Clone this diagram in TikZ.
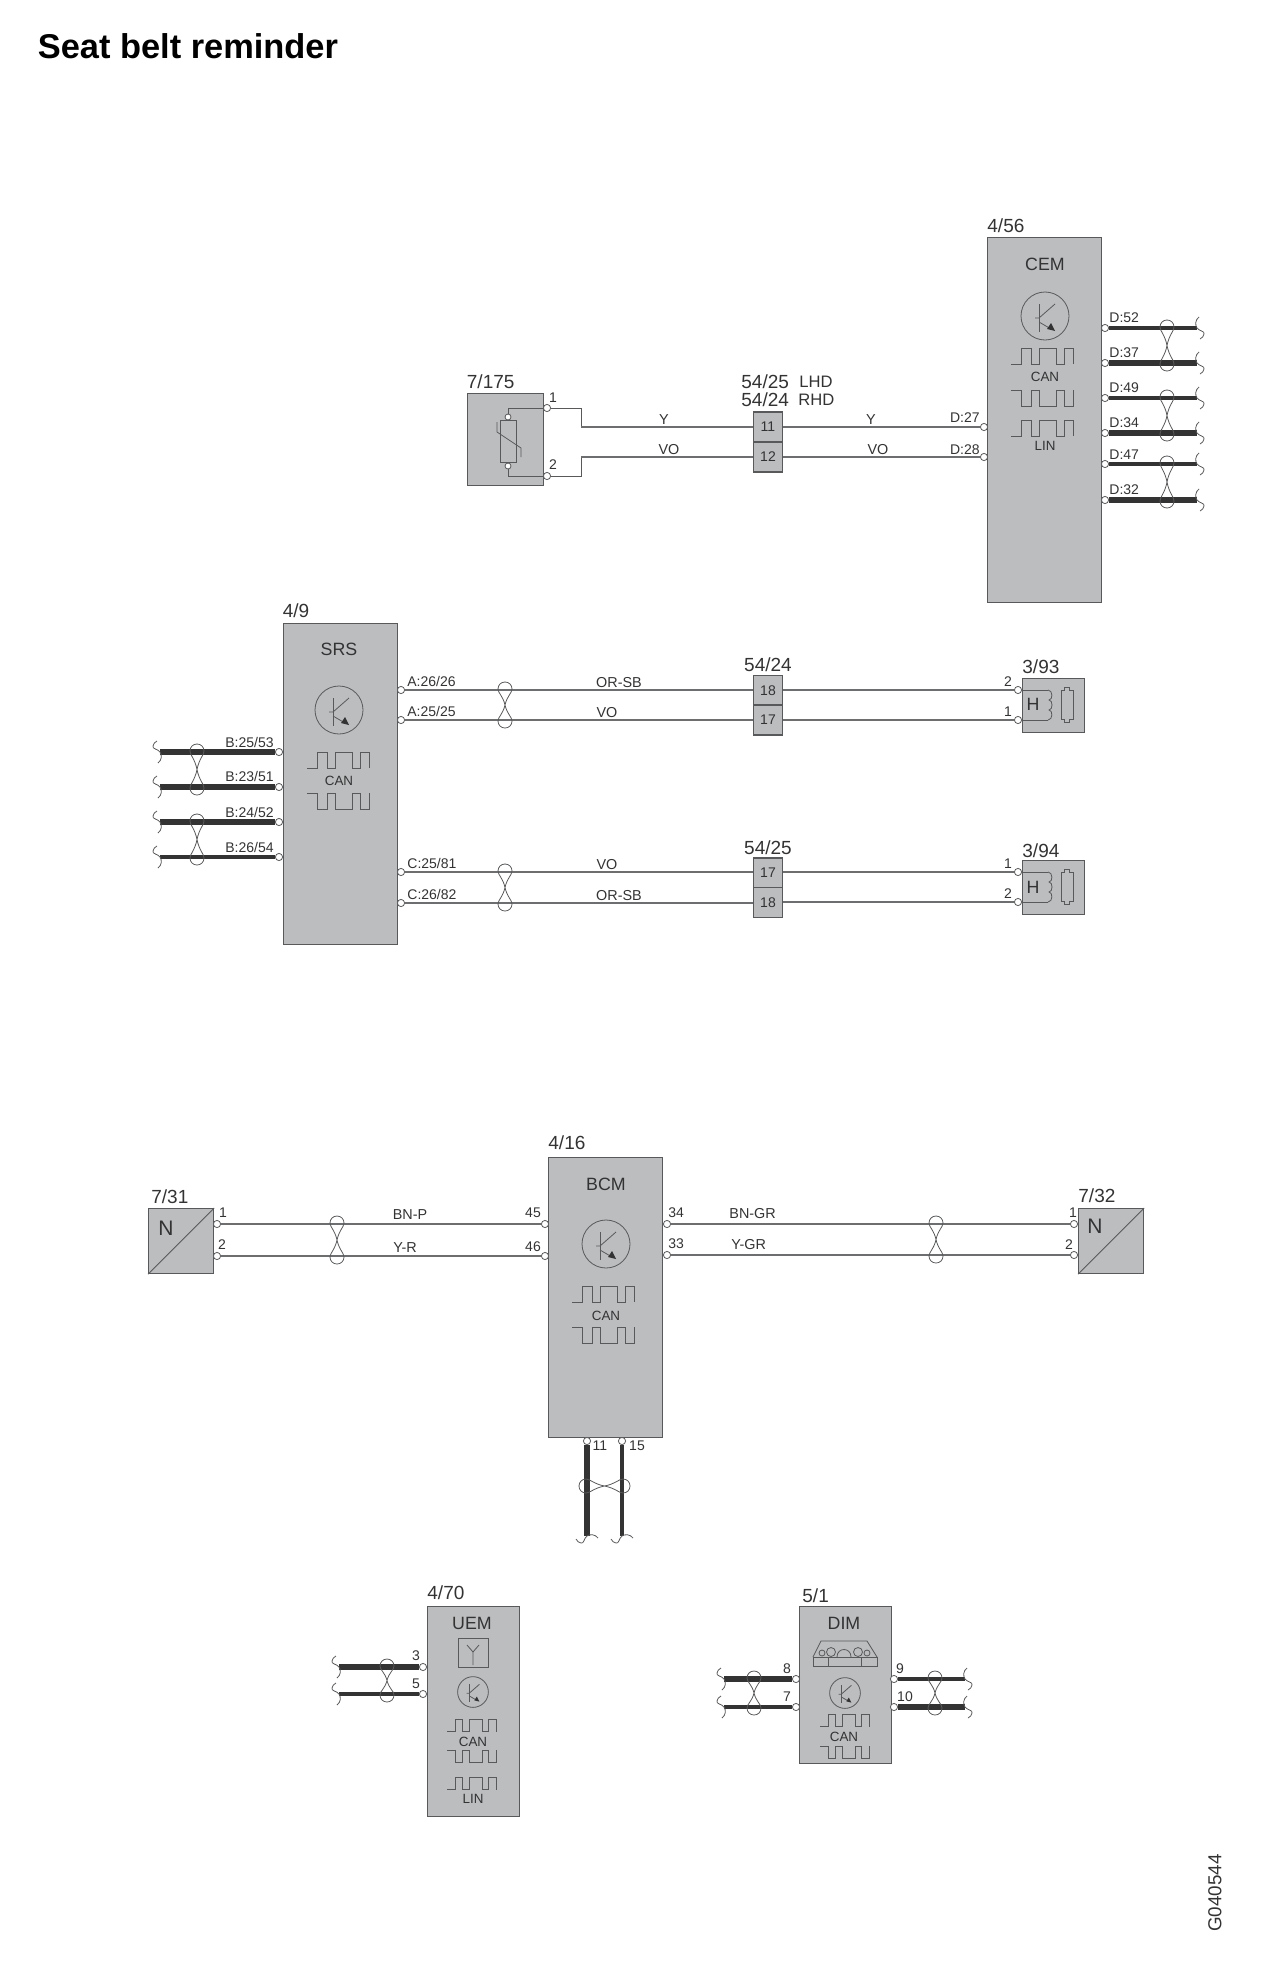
\documentclass[tikz,border=0pt]{standalone}
\usepackage{fontspec}
\setmainfont{Liberation Sans}
\definecolor{boxgray}{HTML}{BCBDBF}
\definecolor{linegray}{HTML}{58595B}
\definecolor{wiregray}{HTML}{6D6E70}
\definecolor{inkdark}{HTML}{333333}
\tikzset{
  ecu/.style={draw=linegray, fill=boxgray, line width=0.6pt, anchor=north west, inner sep=0},
  conn/.style={draw=linegray, fill=boxgray, line width=0.6pt, minimum width=14.5pt, minimum height=15pt, inner sep=0, text=inkdark, font=\fontsize{7}{8}\selectfont},
  pin/.style={circle, draw=linegray, fill=white, line width=0.4pt, minimum size=3.6pt, inner sep=0},
  tag/.style={anchor=west, inner sep=0, text=inkdark, font=\fontsize{9.5}{11}\selectfont},
  chipname/.style={inner sep=0, text=inkdark, font=\fontsize{8.9}{10}\selectfont},
  bus/.style={inner sep=0, text=inkdark, font=\fontsize{6.7}{8}\selectfont},
  pinlabel/.style={inner sep=0, text=inkdark, font=\fontsize{7}{8}\selectfont},
  wirelabel/.style={inner sep=0, text=inkdark, font=\fontsize{7.2}{8}\selectfont},
  wire/.style={draw=wiregray, line width=0.6pt},
  fine/.style={draw=linegray, line width=0.4pt},
  thinbus/.style={draw=inkdark, line width=1.7pt},
  thickbus/.style={draw=inkdark, line width=3pt},
  pics/chip/.style={code={
    \draw[fine] (0,0) circle[radius=24];
    \draw[fine] (-6,-12) -- (-6,16);
    \draw[fine] (-10,2) -- (-6,2) -- (10,-12);
    \draw[fine] (-6,6) -- (6,13);
    \fill[inkdark] (10,15) -- (2,13) -- (6,7) -- cycle;
  }},
  pics/pulseup/.style={code={
    \draw[fine] (0,16) -- (10,16) -- (10,0) -- (20,0) -- (20,16) -- (28,16) -- (28,0) -- (45,0) -- (45,16) -- (53,16) -- (53,0) -- (62,0) -- (62,16);
  }},
  pics/pulsedn/.style={code={
    \draw[fine] (0,0) -- (10,0) -- (10,16) -- (20,16) -- (20,0) -- (28,0) -- (28,16) -- (45,16) -- (45,0) -- (53,0) -- (53,16) -- (62,16) -- (62,0);
  }},
  pics/twist/.style={code={
    \draw[fine] (0,0) .. controls (2,-#1*0.6) and (7,-#1+3) .. (7,-#1-1) .. controls (7,-#1-5) and (4,-#1-8) .. (0,-#1-8) .. controls (-4,-#1-8) and (-7,-#1-5) .. (-7,-#1-1) .. controls (-7,-#1+3) and (-2,-#1*0.6) .. (0,0);
    \draw[fine] (0,0) .. controls (2,#1*0.6) and (7,#1-3) .. (7,#1+1) .. controls (7,#1+5) and (4,#1+8) .. (0,#1+8) .. controls (-4,#1+8) and (-7,#1+5) .. (-7,#1+1) .. controls (-7,#1-3) and (-2,#1*0.6) .. (0,0);
  }},
  pics/brk/.style={code={
    \draw[fine] (2,-11) .. controls (-2,-8) and (-2,-3) .. (0,0) .. controls (2,3) and (8,3) .. (7,6) .. controls (7,8) and (5,10) .. (3,11);
  }},
  pics/coil/.style={code={
    \draw[fine] (0,0) .. controls (5,0) and (5,10) .. (1,10) .. controls (5,10) and (5,20) .. (1,20) .. controls (5,20) and (5,30) .. (0,30);
  }},
  pics/fuse/.style={code={
    \draw[fine] (0,0) -- (3.5,0) -- (3.5,-3) -- (8.5,-3) -- (8.5,0) -- (12,0) -- (12,29) -- (8.5,29) -- (8.5,32) -- (3.5,32) -- (3.5,29) -- (0,29) -- cycle;
  }}
}
\begin{document}
\begin{tikzpicture}[x=0.5pt, y=-0.5pt]
    \useasboundingbox (0,0) rectangle (1265,1980);

    \node[anchor=west, inner sep=0, font=\fontsize{17.2}{20}\bfseries\selectfont] (title) at (37.5,46) {Seat belt reminder};
    \node[rotate=90, inner sep=0, text=inkdark, font=\fontsize{9.4}{11}\selectfont] (drawno) at (1215,1893) {G040544};

    % Sensor 7/175
    \node[ecu, minimum width=38pt, minimum height=46pt] (sens) at (467,393) {};
    \node[tag] (sensTag) at (466.5,382) {7/175};
    \draw[fine] (500,420) rectangle (516,462);
    \node[pin, minimum size=3pt] (sensTop) at (508,417) {};
    \node[pin, minimum size=3pt] (sensBot) at (508,466) {};
    \draw[fine] (497,422) -- (497,432) -- (521,448) -- (521,457);
    \node[pin] (sensA) at (547,408) {};
    \node[pin] (sensB) at (547,476) {};
    \draw[fine] (sensA) -| (sensTop);
    \draw[fine] (sensB) -| (sensBot);
    \node[pinlabel] (sensAtxt) at (553,398) {1};
    \node[pinlabel] (sensBtxt) at (553,465) {2};

    % Connector 54/25 54/24, top
    \node[conn] (cEleven) at (768,427) {11};
    \node[conn] (cTwelve) at (768,457) {12};
    \node[tag] (cLhd) at (741,382) {54/25};
    \node[tag] (cRhd) at (741,400) {54/24};
    \node[tag, font=\fontsize{8.3}{10}\selectfont] (cLhdTxt) at (799,382) {LHD};
    \node[tag, font=\fontsize{8.3}{10}\selectfont] (cRhdTxt) at (798,400) {RHD};
    \coordinate (kinkA) at (581,427);
    \coordinate (kinkB) at (581,457);
    \draw[fine] (sensA) -| (kinkA);
    \draw[fine] (sensB) -| (kinkB);
    \draw[wire] (kinkA) -- (cEleven);
    \draw[wire] (kinkB) -- (cTwelve);
    \node[wirelabel] (wY) at (664,420) {Y};
    \node[wirelabel] (wVO) at (669,450) {VO};

    % CEM
    \node[ecu, minimum width=57pt, minimum height=182.5pt] (cem) at (987,237) {};
    \node[tag] (cemTag) at (987,226) {4/56};
    \node[chipname] (cemName) at (1045,264) {CEM};
    \pic at (1045,316) {chip};
    \pic at (1011,348) {pulseup};
    \node[bus] (cemCan) at (1045,377) {CAN};
    \pic at (1011,390) {pulsedn};
    \pic at (1011,420) {pulseup};
    \node[bus] (cemLin) at (1045,446) {LIN};
    \node[pin] (cemL) at (984,427) {};
    \node[pin] (cemM) at (984,457) {};
    \draw[wire] (cEleven) -- (cemL);
    \draw[wire] (cTwelve) -- (cemM);
    \node[pinlabel, anchor=east] (cemLtxt) at (980,418) {D:27};
    \node[pinlabel, anchor=east] (cemMtxt) at (980,450) {D:28};
    \node[wirelabel] (wYb) at (871,420) {Y};
    \node[wirelabel] (wVOb) at (878,450) {VO};

    \node[pin] (dA) at (1105,328) {};
    \node[pin] (dB) at (1105,363) {};
    \node[pin] (dC) at (1105,398) {};
    \node[pin] (dD) at (1105,433) {};
    \node[pin] (dE) at (1105,464) {};
    \node[pin] (dF) at (1105,500) {};
    \coordinate (dAend) at (1197,328);
    \coordinate (dBend) at (1197,363);
    \coordinate (dCend) at (1197,398);
    \coordinate (dDend) at (1197,433);
    \coordinate (dEend) at (1197,464);
    \coordinate (dFend) at (1197,500);
    \draw[thinbus] (dA) -- (dAend);
    \draw[thickbus] (dB) -- (dBend);
    \draw[thinbus] (dC) -- (dCend);
    \draw[thickbus] (dD) -- (dDend);
    \draw[thinbus] (dE) -- (dEend);
    \draw[thickbus] (dF) -- (dFend);
    \pic at (dAend) {brk};
    \pic at (dBend) {brk};
    \pic at (dCend) {brk};
    \pic at (dDend) {brk};
    \pic at (dEend) {brk};
    \pic at (dFend) {brk};
    \pic at (1167,345.5) {twist=17.5};
    \pic at (1167,415.5) {twist=17.5};
    \pic at (1167,482) {twist=18};
    \node[pinlabel, anchor=west] (dAtxt) at (1109,318) {D:52};
    \node[pinlabel, anchor=west] (dBtxt) at (1109,353) {D:37};
    \node[pinlabel, anchor=west] (dCtxt) at (1109,388) {D:49};
    \node[pinlabel, anchor=west] (dDtxt) at (1109,423) {D:34};
    \node[pinlabel, anchor=west] (dEtxt) at (1109,455) {D:47};
    \node[pinlabel, anchor=west] (dFtxt) at (1109,490) {D:32};

    % SRS
    \node[ecu, minimum width=57pt, minimum height=160.5pt] (srs) at (282.5,623) {};
    \node[tag] (srsTag) at (282.5,610.5) {4/9};
    \node[chipname] (srsName) at (339,649.5) {SRS};
    \pic at (339,710) {chip};
    \pic at (307,752) {pulseup};
    \node[bus] (srsCan) at (339,781) {CAN};
    \pic at (307,793) {pulsedn};

    \node[pin] (bA) at (279,752) {};
    \node[pin] (bB) at (279,787) {};
    \node[pin] (bC) at (279,822) {};
    \node[pin] (bD) at (279,857) {};
    \coordinate (bAend) at (160,752);
    \coordinate (bBend) at (160,787);
    \coordinate (bCend) at (160,822);
    \coordinate (bDend) at (160,857);
    \draw[thickbus, line width=2.6pt] (bA) -- (bAend);
    \draw[thickbus] (bB) -- (bBend);
    \draw[thickbus] (bC) -- (bCend);
    \draw[thinbus] (bD) -- (bDend);
    \pic[rotate=180] at (bAend) {brk};
    \pic[rotate=180] at (bBend) {brk};
    \pic[rotate=180] at (bCend) {brk};
    \pic[rotate=180] at (bDend) {brk};
    \pic at (197,769.5) {twist=17.5};
    \pic at (197,839.5) {twist=17.5};
    \node[pinlabel, anchor=east] (bAtxt) at (274,742) {B:25/53};
    \node[pinlabel, anchor=east] (bBtxt) at (274,776) {B:23/51};
    \node[pinlabel, anchor=east] (bCtxt) at (274,812) {B:24/52};
    \node[pinlabel, anchor=east] (bDtxt) at (274,847) {B:26/54};

    % SRS to 3/93
    \node[pin] (aA) at (401,690) {};
    \node[pin] (aB) at (401,720) {};
    \node[pinlabel, anchor=west] (aAtxt) at (407,681) {A:26/26};
    \node[pinlabel, anchor=west] (aBtxt) at (407,711) {A:25/25};
    \node[conn] (cUpA) at (768,690.5) {18};
    \node[conn] (cUpB) at (768,720) {17};
    \node[tag, anchor=center] (cUpTag) at (768,665) {54/24};
    \node[ecu, minimum width=31pt, minimum height=27pt] (hornA) at (1022,678) {};
    \node[tag] (hornAtag) at (1022,667) {3/93};
    \node[pin] (hornAa) at (1018,690) {};
    \node[pin] (hornAb) at (1018,720) {};
    \draw[wire] (aA) -- (cUpA.west |- aA);
    \draw[wire] (aB) -- (cUpB);
    \draw[wire] (cUpA.east |- hornAa) -- (hornAa);
    \draw[wire] (cUpB) -- (hornAb);
    \pic at (505,705) {twist=15};
    \node[wirelabel] (wOrA) at (619,683) {OR-SB};
    \node[wirelabel] (wVoA) at (607,713) {VO};
    \node[pinlabel] (hornAatxt) at (1008,682) {2};
    \node[pinlabel] (hornAbtxt) at (1008,712) {1};
    \coordinate (coilAa) at (1048,690);
    \coordinate (coilAb) at (1048,720);
    \draw[fine] (hornAa) -- (coilAa);
    \draw[fine] (hornAb) -- (coilAb);
    \pic at (coilAa) {coil};
    \pic at (1061,690) {fuse};
    \node[chipname] (hornAh) at (1033,704) {H};

    % SRS to 3/94
    \node[pin] (cA) at (401,872) {};
    \node[pin] (cB) at (401,903) {};
    \node[pinlabel, anchor=west] (cAtxt) at (407,863) {C:25/81};
    \node[pinlabel, anchor=west] (cBtxt) at (407,894) {C:26/82};
    \node[conn] (cDnA) at (768,873) {17};
    \node[conn] (cDnB) at (768,902.5) {18};
    \node[tag, anchor=center] (cDnTag) at (768,848) {54/25};
    \node[ecu, minimum width=31pt, minimum height=27pt] (hornB) at (1022,860) {};
    \node[tag] (hornBtag) at (1022,851) {3/94};
    \node[pin] (hornBa) at (1018,872) {};
    \node[pin] (hornBb) at (1018,902) {};
    \draw[wire] (cA) -- (cDnA.west |- cA);
    \draw[wire] (cB) -- (cDnB.west |- cB);
    \draw[wire] (cDnA.east |- hornBa) -- (hornBa);
    \draw[wire] (cDnB.east |- hornBb) -- (hornBb);
    \pic at (505,887.5) {twist=15.5};
    \node[wirelabel] (wVoB) at (607,865) {VO};
    \node[wirelabel] (wOrB) at (619,896) {OR-SB};
    \node[pinlabel] (hornBatxt) at (1008,864) {1};
    \node[pinlabel] (hornBbtxt) at (1008,894) {2};
    \coordinate (coilBa) at (1048,872);
    \coordinate (coilBb) at (1048,902);
    \draw[fine] (hornBa) -- (coilBa);
    \draw[fine] (hornBb) -- (coilBb);
    \pic at (coilBa) {coil};
    \pic at (1061,872) {fuse};
    \node[chipname] (hornBh) at (1033,887) {H};

    % BCM
    \node[ecu, minimum width=57pt, minimum height=140pt] (bcm) at (548,1157) {};
    \node[tag] (bcmTag) at (548,1143) {4/16};
    \node[chipname] (bcmName) at (606,1184) {BCM};
    \pic at (606,1244) {chip};
    \pic at (572,1286) {pulseup};
    \node[bus] (bcmCan) at (606,1316) {CAN};
    \pic at (572,1327) {pulsedn};
    \node[pin] (bcmA) at (545,1224) {};
    \node[pin] (bcmB) at (545,1256) {};
    \node[pin] (bcmC) at (667,1224) {};
    \node[pin] (bcmD) at (667,1255) {};
    \node[pinlabel] (bcmAtxt) at (533,1213) {45};
    \node[pinlabel] (bcmBtxt) at (533,1247) {46};
    \node[pinlabel, anchor=west] (bcmCtxt) at (668,1213) {34};
    \node[pinlabel, anchor=west] (bcmDtxt) at (668,1244) {33};

    \node[pin] (bcmE) at (587,1441) {};
    \node[pin] (bcmF) at (622,1441) {};
    \coordinate (bcmEend) at (587,1536);
    \coordinate (bcmFend) at (622,1536);
    \draw[thickbus, line width=3.4pt] (bcmE) -- (bcmEend);
    \draw[thinbus] (bcmF) -- (bcmFend);
    \pic[rotate=-90] at (bcmEend) {brk};
    \pic[rotate=-90] at (bcmFend) {brk};
    \pic[rotate=90] at (604.5,1486) {twist=17.5};
    \node[pinlabel] (bcmEtxt) at (600,1446) {11};
    \node[pinlabel] (bcmFtxt) at (637,1446) {15};

    % Sensor 7/31
    \node[ecu, minimum width=32.5pt, minimum height=32.5pt] (seatA) at (148,1208) {};
    \node[tag] (seatAtag) at (151,1197) {7/31};
    \draw[fine] (seatA.south west) -- (seatA.north east);
    \node[chipname, font=\fontsize{10.5}{12}\selectfont] (seatAn) at (166,1228) {N};
    \node[pin] (seatAa) at (217,1224) {};
    \node[pin] (seatAb) at (217,1256) {};
    \node[pinlabel] (seatAatxt) at (223,1213) {1};
    \node[pinlabel] (seatAbtxt) at (222,1245) {2};
    \draw[wire] (seatAa) -- (bcmA);
    \draw[wire] (seatAb) -- (bcmB);
    \pic at (337,1240) {twist=16};
    \node[wirelabel] (wBnP) at (410,1215) {BN-P};
    \node[wirelabel] (wYR) at (405,1248) {Y-R};

    % Sensor 7/32
    \node[ecu, minimum width=32.5pt, minimum height=32.5pt] (seatB) at (1078,1208) {};
    \node[tag] (seatBtag) at (1078,1196) {7/32};
    \draw[fine] (seatB.south west) -- (seatB.north east);
    \node[chipname, font=\fontsize{10.5}{12}\selectfont] (seatBn) at (1095,1226) {N};
    \node[pin] (seatBa) at (1074,1224) {};
    \node[pin] (seatBb) at (1074,1255) {};
    \node[pinlabel] (seatBatxt) at (1073,1213) {1};
    \node[pinlabel] (seatBbtxt) at (1069,1245) {2};
    \draw[wire] (bcmC) -- (seatBa);
    \draw[wire] (bcmD) -- (seatBb);
    \pic at (936,1239.5) {twist=15.5};
    \node[wirelabel, anchor=west] (wBnGr) at (729,1214) {BN-GR};
    \node[wirelabel, anchor=west] (wYGr) at (731,1245) {Y-GR};

    % UEM
    \node[ecu, minimum width=46pt, minimum height=105pt] (uem) at (427,1606) {};
    \node[tag] (uemTag) at (427,1593) {4/70};
    \node[chipname] (uemName) at (472,1623) {UEM};
    \draw[fine] (458,1638) rectangle (488,1667);
    \draw[fine] (473,1665) -- (473,1652) -- (467,1645);
    \draw[fine] (473,1652) -- (479,1645);
    \pic[scale=0.64] at (473,1692) {chip};
    \pic[scale=0.79] at (447,1719) {pulseup};
    \node[bus] (uemCan) at (473,1742) {CAN};
    \pic[scale=0.79] at (447,1750) {pulsedn};
    \pic[scale=0.79] at (447,1777) {pulseup};
    \node[bus] (uemLin) at (473,1799) {LIN};
    \node[pin] (uemA) at (423,1667) {};
    \node[pin] (uemB) at (423,1694) {};
    \coordinate (uemAend) at (339,1667);
    \coordinate (uemBend) at (339,1694);
    \draw[thickbus] (uemA) -- (uemAend);
    \draw[thinbus] (uemB) -- (uemBend);
    \pic[rotate=180] at (uemAend) {brk};
    \pic[rotate=180] at (uemBend) {brk};
    \pic at (387,1680.5) {twist=13.5};
    \node[pinlabel] (uemAtxt) at (416,1656) {3};
    \node[pinlabel] (uemBtxt) at (416,1684) {5};

    % DIM
    \node[ecu, minimum width=46pt, minimum height=78.5pt] (dim) at (799,1606) {};
    \node[tag] (dimTag) at (802,1596) {5/1};
    \node[chipname] (dimName) at (844,1623) {DIM};
    \draw[fine] (813,1657) -- (821,1641) -- (867,1641) -- (877,1657);
    \draw[fine] (813,1657) rectangle (877,1666);
    \draw[fine] (828,1657) -- (828,1666);
    \draw[fine] (861,1657) -- (861,1666);
    \draw[fine] (822,1653) circle[radius=3];
    \draw[fine] (831,1652) circle[radius=4.5];
    \draw[fine] (837,1657) .. controls (837,1647) and (851,1647) .. (851,1657);
    \draw[fine] (858,1652) circle[radius=4.5];
    \draw[fine] (867,1653) circle[radius=3];
    \pic[scale=0.64] at (845,1693) {chip};
    \pic[scale=0.79] at (820,1714) {pulseup};
    \node[bus] (dimCan) at (844,1737) {CAN};
    \pic[scale=0.79] at (820,1746) {pulsedn};
    \node[pin] (dimA) at (796,1679) {};
    \node[pin] (dimB) at (796,1707) {};
    \node[pin] (dimC) at (894,1679) {};
    \node[pin] (dimD) at (894,1707) {};
    \coordinate (dimAend) at (724,1679);
    \coordinate (dimBend) at (724,1707);
    \coordinate (dimCend) at (965,1679);
    \coordinate (dimDend) at (965,1707);
    \draw[thickbus] (dimA) -- (dimAend);
    \draw[thinbus] (dimB) -- (dimBend);
    \draw[thinbus] (dimC) -- (dimCend);
    \draw[thickbus] (dimD) -- (dimDend);
    \pic[rotate=180] at (dimAend) {brk};
    \pic[rotate=180] at (dimBend) {brk};
    \pic at (dimCend) {brk};
    \pic at (dimDend) {brk};
    \pic at (754,1693) {twist=14};
    \pic at (935,1693) {twist=14};
    \node[pinlabel] (dimAtxt) at (787,1669) {8};
    \node[pinlabel] (dimBtxt) at (787,1697) {7};
    \node[pinlabel] (dimCtxt) at (900,1669) {9};
    \node[pinlabel] (dimDtxt) at (905,1697) {10};

\end{tikzpicture}
\end{document}
